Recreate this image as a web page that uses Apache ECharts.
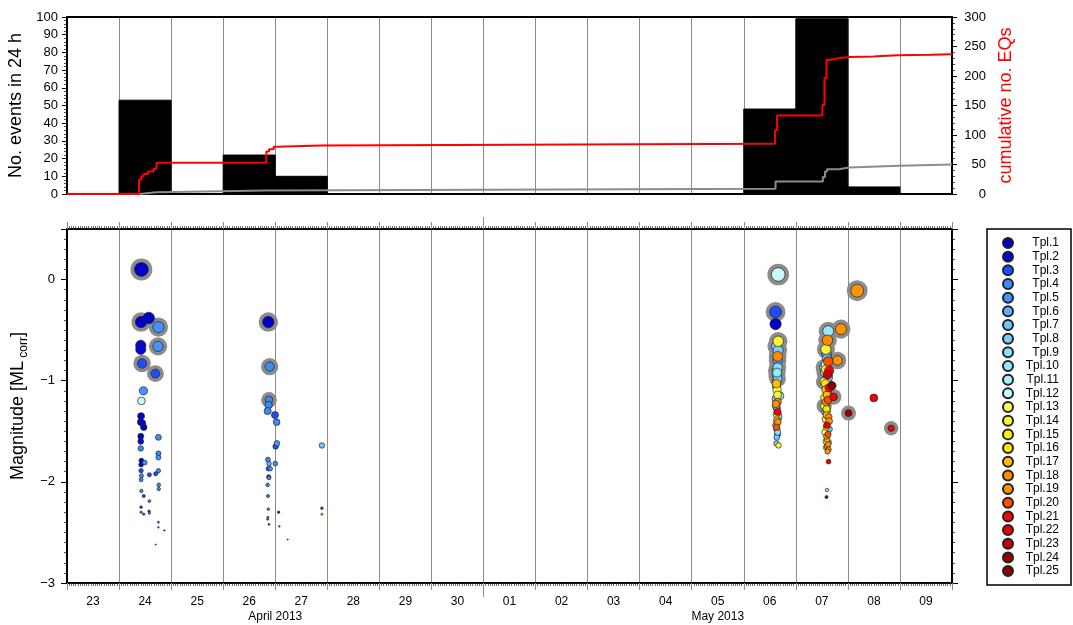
<!DOCTYPE html>
<html>
<head>
<meta charset="utf-8">
<script src="https://cdn.jsdelivr.net/npm/echarts@6/dist/echarts.min.js"></script>
<style>
  html, body { margin: 0; padding: 0; background: #fff; }
  #chart { width: 1073px; height: 625px; }
</style>
</head>
<body>
<div id="chart"></div>
<script>
// Time is counted in days since 23 April 2013, 00:00.
const dayLabels = ['23', '24', '25', '26', '27', '28', '29', '30', '01', '02', '03', '04', '05', '06', '07', '08', '09'];
const monthLabels = ['April 2013', 'May 2013'];
const monthCentres = [4, 12.5];
const monthBoundary = [8];
const magnitudeTicks = [-3, -2, -1, 0];

const templateNames = ['Tpl.1', 'Tpl.2', 'Tpl.3', 'Tpl.4', 'Tpl.5', 'Tpl.6', 'Tpl.7', 'Tpl.8', 'Tpl.9', 'Tpl.10',
  'Tpl.11', 'Tpl.12', 'Tpl.13', 'Tpl.14', 'Tpl.15', 'Tpl.16', 'Tpl.17', 'Tpl.18', 'Tpl.19', 'Tpl.20',
  'Tpl.21', 'Tpl.22', 'Tpl.23', 'Tpl.24', 'Tpl.25'];
const templateColors = ['#0000c8', '#0008d8', '#1e4cff', '#3c8cf5', '#4494ff', '#5fb2ff', '#70c6fa', '#78ccff', '#8ae0ff', '#98e8fc',
  '#a8f0ff', '#c8fcfc', '#ffff50', '#fff430', '#ffec10', '#ffe400', '#ffbc00', '#ff8c00', '#ff9400', '#ff5000',
  '#ff0000', '#f00000', '#c80000', '#9a0000', '#8a0000'];

// Number of detected events per day (23 Apr ... 09 May)
const dailyCounts = [0, 53, 0, 22, 10, 0, 0, 0, 0, 0, 0, 0, 0, 48, 99, 4, 0];

// Cumulative number of all detections: [day, count]
const cumulativeAll = [
  [0, 0], [1.384, 24], [1.43, 30], [1.474, 34], [1.557, 38], [1.666, 43], [1.718, 53],
  [3.829, 72], [3.88, 76], [3.97, 80], [4.04, 82], [4.89, 85],
  [13.60, 108], [13.64, 133], [14.51, 151], [14.55, 196], [14.59, 227], [14.64, 230],
  [14.83, 232], [15.02, 233], [15.5, 234], [15.66, 235], [15.98, 236], [16.6, 237], [17, 237]
];
// Cumulative number of catalogued (ringed) events: [day, count]
const cumulativeCatalogue = [
  [0, 0], [1.39, 3], [1.72, 6], [3.83, 9], [13.61, 21], [14.52, 29], [14.56, 38],
  [14.60, 42], [14.83, 45], [15.02, 48], [15.98, 50], [17, 50]
];

// Events: [day, magnitude, template, catalogued (1 = ringed)]
const eventsApr24 = [
  [1.429, 0.10, 1, 1], [1.423, -0.42, 1, 1], [1.570, -0.38, 1, 0], [1.756, -0.47, 5, 1],
  [1.417, -0.65, 2, 0], [1.417, -0.69, 2, 0], [1.749, -0.66, 5, 1], [1.442, -0.83, 3, 1],
  [1.698, -0.93, 3, 1], [1.468, -1.10, 5, 0], [1.429, -1.20, 12, 0], [1.423, -1.35, 1, 0],
  [1.417, -1.41, 1, 0], [1.449, -1.42, 2, 0], [1.474, -1.46, 1, 0], [1.417, -1.55, 1, 0],
  [1.417, -1.60, 2, 0], [1.417, -1.67, 4, 0], [1.756, -1.56, 4, 0], [1.756, -1.72, 4, 0],
  [1.756, -1.76, 5, 0], [1.429, -1.79, 1, 0], [1.423, -1.83, 1, 0], [1.493, -1.81, 5, 0],
  [1.583, -1.93, 3, 0], [1.704, -1.92, 3, 0], [1.756, -1.89, 4, 0], [1.423, -1.89, 3, 0],
  [1.429, -1.94, 4, 0], [1.423, -1.98, 4, 0], [1.762, -2.03, 4, 0], [1.762, -2.07, 4, 0],
  [1.429, -2.09, 4, 0], [1.474, -2.14, 3, 0], [1.583, -2.19, 4, 0], [1.423, -2.25, 3, 0],
  [1.423, -2.30, 4, 0], [1.474, -2.32, 3, 0], [1.577, -2.29, 3, 0], [1.583, -2.31, 4, 0],
  [1.756, -2.40, 3, 0], [1.756, -2.45, 4, 0], [1.871, -2.48, 3, 0], [1.704, -2.62, 3, 0]
];
const eventsApr26 = [
  [3.867, -0.42, 1, 1], [3.893, -0.86, 4, 1], [3.880, -1.19, 4, 1], [3.873, -1.24, 4, 0],
  [3.854, -1.30, 4, 0], [3.995, -1.34, 3, 0], [4.027, -1.41, 4, 0], [4.033, -1.62, 5, 0],
  [4.008, -1.65, 3, 0], [3.860, -1.78, 4, 0], [3.880, -1.82, 6, 0], [4.001, -1.82, 4, 0],
  [3.867, -1.87, 3, 0], [3.905, -1.87, 5, 0], [3.873, -1.95, 1, 0], [3.880, -1.96, 4, 0],
  [3.854, -2.03, 4, 0], [3.860, -2.14, 4, 0], [3.867, -2.27, 4, 0], [3.860, -2.35, 4, 0],
  [3.854, -2.37, 3, 0], [3.880, -2.42, 1, 0], [4.065, -2.30, 24, 0], [4.078, -2.44, 4, 0],
  [4.238, -2.57, 3, 0], [4.897, -1.64, 7, 0], [4.897, -2.26, 3, 0], [4.897, -2.32, 15, 0]
];
const eventsMay06 = [
  [13.662, 0.05, 12, 1], [13.611, -0.32, 3, 1], [13.611, -0.44, 1, 0], [13.662, -0.61, 14, 1],
  [13.630, -0.66, 7, 1], [13.660, -0.70, 8, 1], [13.650, -0.76, 18, 1], [13.650, -0.80, 5, 1],
  [13.650, -0.87, 9, 1], [13.630, -0.90, 6, 1], [13.640, -0.92, 10, 1], [13.635, -0.95, 7, 1],
  [13.650, -0.98, 8, 1], [13.640, -1.00, 6, 0], [13.630, -1.03, 17, 0], [13.630, -1.06, 7, 0],
  [13.640, -1.09, 13, 0], [13.650, -1.14, 14, 0], [13.695, -1.15, 10, 0], [13.617, -1.18, 8, 0],
  [13.650, -1.21, 18, 0], [13.617, -1.23, 19, 0], [13.620, -1.25, 7, 0], [13.635, -1.27, 6, 0],
  [13.650, -1.31, 21, 0], [13.630, -1.33, 13, 0], [13.668, -1.35, 10, 0], [13.660, -1.37, 8, 0],
  [13.635, -1.39, 17, 0], [13.655, -1.41, 19, 0], [13.617, -1.44, 8, 0], [13.630, -1.46, 20, 0],
  [13.635, -1.48, 6, 0], [13.650, -1.51, 9, 0], [13.650, -1.53, 6, 0], [13.635, -1.56, 7, 0],
  [13.630, -1.62, 8, 0], [13.668, -1.64, 14, 0]
];
const eventsMay07 = [
  [14.622, -0.51, 10, 1], [14.866, -0.49, 19, 1], [15.179, -0.11, 19, 1], [14.609, -0.60, 18, 1],
  [14.578, -0.69, 14, 1], [14.590, -0.74, 5, 0], [14.600, -0.78, 6, 0], [14.800, -0.80, 19, 1],
  [14.622, -0.81, 20, 0], [14.580, -0.84, 12, 0], [14.545, -0.87, 8, 1], [14.578, -0.89, 15, 0],
  [14.641, -0.90, 21, 0], [14.560, -0.92, 9, 1], [14.609, -0.94, 23, 0], [14.620, -0.97, 7, 0],
  [14.545, -1.01, 13, 1], [14.570, -1.03, 15, 0], [14.693, -1.05, 25, 0], [14.640, -1.07, 21, 0],
  [14.578, -1.09, 17, 0], [14.609, -1.12, 8, 0], [14.600, -1.14, 17, 0], [14.724, -1.16, 22, 1],
  [14.550, -1.17, 14, 0], [14.620, -1.19, 20, 0], [14.578, -1.21, 18, 0], [14.580, -1.23, 9, 0],
  [14.545, -1.25, 13, 1], [14.590, -1.28, 16, 0], [14.600, -1.30, 13, 0], [14.565, -1.31, 7, 0],
  [14.590, -1.34, 17, 0], [14.630, -1.36, 18, 0], [14.570, -1.38, 14, 0], [14.641, -1.40, 19, 0],
  [14.610, -1.42, 6, 0], [14.597, -1.44, 22, 0], [14.590, -1.46, 16, 0], [14.641, -1.48, 8, 0],
  [14.558, -1.51, 13, 0], [14.620, -1.53, 20, 0], [14.590, -1.55, 19, 0], [14.600, -1.58, 17, 0],
  [14.578, -1.60, 15, 0], [14.630, -1.61, 8, 0], [14.622, -1.63, 19, 0], [14.597, -1.65, 18, 0],
  [14.580, -1.66, 13, 0], [14.629, -1.68, 19, 0], [14.610, -1.70, 19, 0], [14.629, -1.80, 22, 0],
  [14.597, -2.08, 10, 0], [14.590, -2.15, 25, 0],
  [15.012, -1.32, 24, 1], [15.499, -1.17, 22, 0], [15.831, -1.47, 22, 1]
];

const events = eventsApr24.concat(eventsApr26, eventsMay06, eventsMay07);

const FONT = "'Liberation Sans', Arial, Helvetica, sans-serif";
// Symbol diameter grows with magnitude.
const dotSize = (mag) => Math.max(1.2, 13.4 + 4.8 * mag);
const minus = (v) => (v < 0 ? '\u2212' + Math.abs(v) : String(v));

const frame = { show: true, onZero: false, lineStyle: { color: '#000', width: 2 } };
const gridLine = { show: true, lineStyle: { color: '#8c8c8c', width: 1 } };
const noLabel = { show: false };
const noSplit = { show: false };

const xRange = { type: 'value', min: 0, max: 17 };

const xAxes = [
  // upper panel
  Object.assign({ gridIndex: 0, position: 'bottom', interval: 1, axisLine: frame,
    axisTick: { show: false }, axisLabel: noLabel, splitLine: gridLine }, xRange),
  Object.assign({ gridIndex: 0, position: 'top', interval: 1, axisLine: frame,
    axisTick: { show: false }, axisLabel: noLabel, splitLine: noSplit }, xRange),
  // lower panel: day boundaries, hourly minor ticks, day labels
  Object.assign({ gridIndex: 1, position: 'bottom', interval: 1, axisLine: frame,
    axisTick: { show: true, length: 7, lineStyle: { color: '#8c8c8c', width: 1 } },
    minorTick: { show: true, splitNumber: 24, length: 3, lineStyle: { color: '#333', width: 0.7 } },
    axisLabel: { customValues: dayLabels.map((_, i) => i + 0.5), formatter: (v) => dayLabels[Math.floor(v)],
      margin: 13, fontSize: 12, color: '#000', fontFamily: FONT },
    splitLine: gridLine }, xRange),
  // lower panel: month names and month boundary
  Object.assign({ gridIndex: 1, position: 'bottom', axisLine: { show: false, onZero: false },
    axisTick: { show: true, customValues: monthBoundary, length: 14, lineStyle: { color: '#8c8c8c', width: 1 } },
    axisLabel: { customValues: monthCentres, formatter: (v) => monthLabels[monthCentres.indexOf(v)],
      margin: 28, fontSize: 12, color: '#000', fontFamily: FONT },
    splitLine: noSplit }, xRange),
  Object.assign({ gridIndex: 1, position: 'top', interval: 1, axisLine: frame,
    axisTick: { show: true, length: 7, lineStyle: { color: '#8c8c8c', width: 1 } },
    minorTick: { show: true, splitNumber: 24, length: 3, lineStyle: { color: '#333', width: 0.7 } },
    axisLabel: noLabel, splitLine: noSplit }, xRange),
  Object.assign({ gridIndex: 1, position: 'top', axisLine: { show: false, onZero: false },
    axisTick: { show: true, customValues: monthBoundary, length: 12, lineStyle: { color: '#8c8c8c', width: 1 } },
    axisLabel: noLabel, splitLine: noSplit }, xRange)
];

const tickLabel = { fontSize: 13, color: '#000', fontFamily: FONT };

const yAxes = [
  { gridIndex: 0, type: 'value', position: 'left', min: 0, max: 100, interval: 10, axisLine: frame,
    axisTick: { show: true, length: 5, lineStyle: { color: '#000', width: 1 } },
    minorTick: { show: true, splitNumber: 5, length: 3, lineStyle: { color: '#000', width: 0.7 } },
    axisLabel: Object.assign({ margin: 9 }, tickLabel), splitLine: noSplit,
    name: 'No. events in 24 h', nameLocation: 'middle', nameRotate: 90, nameGap: 37,
    nameTextStyle: { fontSize: 18, color: '#000', fontFamily: FONT } },
  { gridIndex: 0, type: 'value', position: 'right', min: 0, max: 300, interval: 50, axisLine: frame,
    axisTick: { show: true, length: 5, lineStyle: { color: '#000', width: 1 } },
    minorTick: { show: true, splitNumber: 5, length: 3, lineStyle: { color: '#000', width: 0.7 } },
    axisLabel: Object.assign({ margin: 34, align: 'right' }, tickLabel), splitLine: noSplit,
    name: 'cumulative no. EQs', nameLocation: 'middle', nameRotate: 90, nameGap: 44,
    nameTextStyle: { fontSize: 18, color: '#ff0000', fontFamily: FONT } },
  { gridIndex: 1, type: 'value', position: 'left', min: -3, max: 0.5, interval: 1, axisLine: frame,
    axisTick: { show: true, length: 6, lineStyle: { color: '#000', width: 1 } },
    axisLabel: Object.assign({ margin: 12, customValues: magnitudeTicks, formatter: minus }, tickLabel),
    splitLine: noSplit,
    name: '{a|Magnitude [ML}{b| corr}{a|]}', nameLocation: 'middle', nameRotate: 90, nameGap: 30,
    nameTextStyle: { fontFamily: FONT, color: '#000',
      rich: { a: { fontSize: 18, lineHeight: 22, fontFamily: FONT, color: '#000', verticalAlign: 'middle' },
              b: { fontSize: 12, lineHeight: 12, fontFamily: FONT, color: '#000', verticalAlign: 'bottom' } } } },
  { gridIndex: 1, type: 'value', position: 'left', min: -3, max: 0.5, interval: 0.1,
    axisLine: { show: false, onZero: false },
    axisTick: { show: true, length: 3, lineStyle: { color: '#000', width: 0.7 } },
    axisLabel: noLabel, splitLine: noSplit },
  { gridIndex: 1, type: 'value', position: 'right', min: -3, max: 0.5, interval: 1, axisLine: frame,
    axisTick: { show: true, length: 6, lineStyle: { color: '#000', width: 1 } },
    axisLabel: noLabel, splitLine: noSplit },
  { gridIndex: 1, type: 'value', position: 'right', min: -3, max: 0.5, interval: 0.1,
    axisLine: { show: false, onZero: false },
    axisTick: { show: true, length: 3, lineStyle: { color: '#000', width: 0.7 } },
    axisLabel: noLabel, splitLine: noSplit }
];

const series = [
  // daily histogram
  { type: 'line', name: 'daily', xAxisIndex: 0, yAxisIndex: 0, step: 'end', symbol: 'none', silent: true,
    data: dailyCounts.map((c, i) => [i, c]).concat([[dailyCounts.length, dailyCounts[dailyCounts.length - 1]]]),
    lineStyle: { color: '#000', width: 1 }, areaStyle: { color: '#000', opacity: 1 } },
  { type: 'line', name: 'catalogue', xAxisIndex: 0, yAxisIndex: 1, step: 'end', symbol: 'none', silent: true,
    data: cumulativeCatalogue, lineStyle: { color: '#8c8c8c', width: 2 } },
  { type: 'line', name: 'all', xAxisIndex: 0, yAxisIndex: 1, step: 'end', symbol: 'none', silent: true,
    data: cumulativeAll, lineStyle: { color: '#ff0000', width: 2 } },
  // grey rings marking catalogued events
  { type: 'scatter', name: 'ring', xAxisIndex: 2, yAxisIndex: 2, silent: true, z: 2,
    data: events.filter((e) => e[3] === 1).map((e) => [e[0], e[1]]),
    symbolSize: (v) => dotSize(v[1]) + 8,
    itemStyle: { color: '#8c8c8c', opacity: 1 } }
];

templateNames.forEach((name, i) => {
  series.push({
    type: 'scatter', name: name, xAxisIndex: 2, yAxisIndex: 2, z: 3, silent: true,
    data: events.filter((e) => e[2] === i + 1).map((e) => [e[0], e[1]]),
    symbolSize: (v) => dotSize(v[1]),
    itemStyle: { color: templateColors[i], borderColor: '#222', borderWidth: 0.7, opacity: 1 }
  });
});

const chart = echarts.init(document.getElementById('chart'), null, { renderer: 'canvas' });
chart.setOption({
  animation: false,
  backgroundColor: '#fff',
  textStyle: { fontFamily: FONT },
  grid: [
    { left: 67, top: 17, width: 885, height: 177, outerBoundsMode: 'none' },
    { left: 67, top: 229, width: 885, height: 354, outerBoundsMode: 'none' }
  ],
  xAxis: xAxes,
  yAxis: yAxes,
  legend: {
    data: templateNames, orient: 'vertical', left: 987, top: 229,
    padding: [8, 12, 8, 15], itemWidth: 10, itemHeight: 10, itemGap: 1.67,
    icon: 'circle', selectedMode: false,
    borderColor: '#000', borderWidth: 1.5, borderRadius: 0, backgroundColor: '#fff',
    formatter: (n) => '{n|' + n + '}',
    textStyle: { fontSize: 12, lineHeight: 12, color: '#000', fontFamily: FONT,
      rich: { n: { width: 41, align: 'right', fontSize: 12, lineHeight: 12, color: '#000', fontFamily: FONT } } }
  },
  series: series
});
</script>
</body>
</html>
